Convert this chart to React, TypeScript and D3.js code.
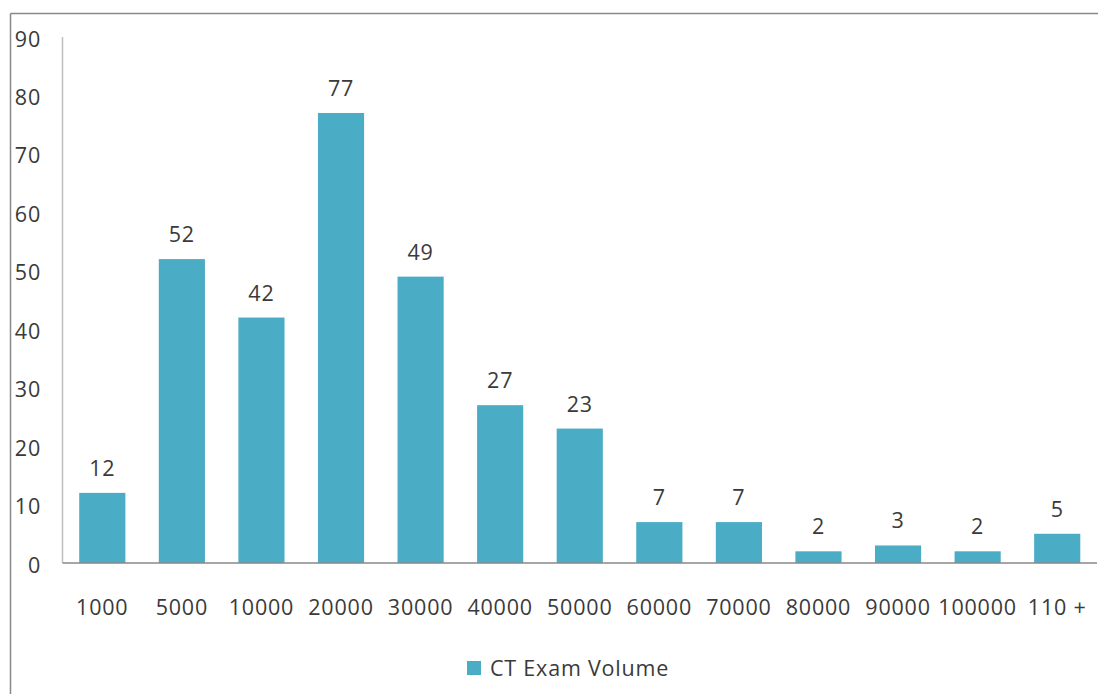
import React from "react";
import * as d3 from "d3";

const categories = ["1000", "5000", "10000", "20000", "30000", "40000", "50000", "60000", "70000", "80000", "90000", "100000", "110 +"];
const values = [12, 52, 42, 77, 49, 27, 23, 7, 7, 2, 3, 2, 5];
const yTicks = [0, 10, 20, 30, 40, 50, 60, 70, 80, 90];
const seriesName = "CT Exam Volume";

const W = 1098;
const H = 694;
const FONT = "'Open Sans', sans-serif";
const TEXT = "#3a3a3a";
const BAR = "#4BACC6";

export default function App() {
  const x = d3.scaleBand<string>().domain(categories).range([62.5, 1097]).paddingInner(0.42).paddingOuter(0.21);
  const y = d3.scaleLinear().domain([0, 90]).range([563, 37]);
  return (
    <svg width={W} height={H} style={{ position: "absolute", left: 0, top: 0 }}>
      <rect x={0} y={0} width={W} height={H} fill="#fff" />
      <line x1={10.5} y1={13.5} x2={W} y2={13.5} stroke="#888" strokeWidth={1.5} />
      <line x1={10.5} y1={13.5} x2={10.5} y2={H} stroke="#888" strokeWidth={1.5} />
      <line x1={62.5} y1={y(90)} x2={62.5} y2={y(0)} stroke="#bfbfbf" strokeWidth={1.5} />
      {yTicks.map((t) => (
        <text key={t} x={41} y={y(t) + 2} dy="0.35em" textAnchor="end" fontFamily={FONT} fontSize={21.5} fill={TEXT} letterSpacing={0.8}>
          {t}
        </text>
      ))}
      {categories.map((c, i) => (
        <g key={c}>
          <rect x={x(c)} y={y(values[i])} width={x.bandwidth()} height={y(0) - y(values[i])} fill={BAR} />
          <text x={(x(c) as number) + x.bandwidth() / 2} y={y(values[i]) - 17} textAnchor="middle" fontFamily={FONT} fontSize={21.5} fill={TEXT} letterSpacing={0.8}>
            {values[i]}
          </text>
          <text x={(x(c) as number) + x.bandwidth() / 2} y={607} dy="0.35em" textAnchor="middle" fontFamily={FONT} fontSize={21.5} fill={TEXT} letterSpacing={0.8}>
            {c}
          </text>
        </g>
      ))}
      <line x1={62.5} y1={563} x2={1097} y2={563} stroke="#888" strokeWidth={1.5} />
      <rect x={467} y={661} width={14} height={14} fill={BAR} />
      <text x={490} y={668} dy="0.35em" fontFamily={FONT} fontSize={21.5} fill={TEXT} letterSpacing={0.8}>
        {seriesName}
      </text>
    </svg>
  );
}
